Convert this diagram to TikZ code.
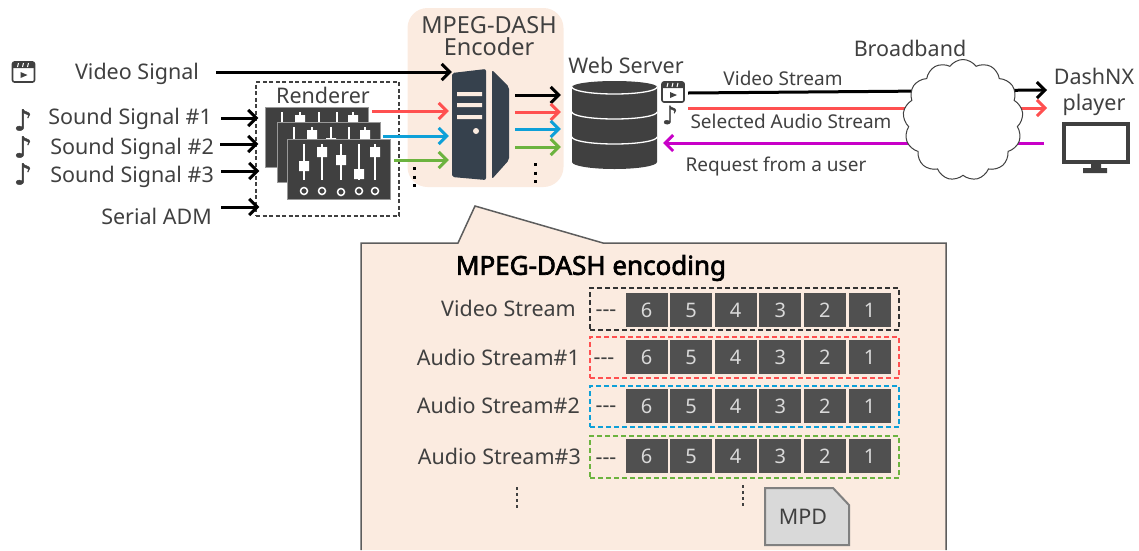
\documentclass[tikz,border=0pt]{standalone}
\usepackage{fontspec}
\setmainfont{Noto Sans}
\newfontfamily\symfont[FakeBold=1.5]{DejaVu Sans}
\newfontfamily\titlefont[FakeBold=2.6]{Noto Sans}
\usetikzlibrary{shapes.geometric, shapes.symbols, arrows.meta, positioning}
\definecolor{peach}{HTML}{FBEBE0}
\definecolor{txtgray}{HTML}{404040}
\definecolor{segfill}{HTML}{505050}
\definecolor{towerblue}{HTML}{36414D}
\definecolor{redline}{HTML}{FF5050}
\definecolor{blueline}{HTML}{0EA0D8}
\definecolor{greenline}{HTML}{6CB33F}
\definecolor{pinkline}{HTML}{C800C8}

\begin{document}
\begin{tikzpicture}[
        x=1pt, y=-1pt,
        label/.style={text=txtgray, font=\fontsize{21.5}{26}\selectfont, inner sep=0pt},
        smalllabel/.style={text=txtgray, font=\fontsize{19}{23}\selectfont, inner sep=0pt},
        notesym/.style={text=txtgray, font=\symfont\fontsize{29}{29}\selectfont, inner sep=0pt},
        arrow/.style={-{Straight Barb[length=8pt, width=16pt, line width=3pt]}, line width=3pt},
        seg/.style={fill=segfill, text=black!15, font=\fontsize{20}{24}\selectfont, minimum width=42pt, minimum height=34pt, inner sep=0pt},
        rowbox/.style={dash pattern=on 5pt off 3pt, line width=1.5pt, minimum width=309pt, inner sep=0pt},
        dots/.style={line width=3pt, dash pattern=on 3pt off 5.5pt},
        node distance=2.2pt,
        clapper/.pic={
            \draw[txtgray, line width=1.6pt, fill=white, rounded corners=2pt] (-11,-10) rectangle (11,10);
            \fill[txtgray, rounded corners=1pt] (-11,-10) rectangle (11,-4);
            \draw[white, line width=1pt] (-6,-5) -- (-5,-9) (-1,-5) -- (0,-9) (4,-5) -- (5,-9);
            \fill[txtgray] (-3,0) -- (4,3) -- (-3,6) -- cycle;
        },
        mixer/.pic={
            \draw[black!40, line width=1pt, fill=txtgray] (0,0) rectangle (103,60);
            \draw[white, line width=1.5pt] (17,5) -- (17,41) (35,5) -- (35,41) (54,5) -- (54,41) (72,5) -- (72,41) (88,5) -- (88,41);
            \fill[white] (12,22) rectangle (22,32) (30,8) rectangle (40,18) (49,16) rectangle (59,26) (67,30) rectangle (77,40) (83,8) rectangle (93,18);
            \draw[white, line width=1.5pt] (17,52) circle (3.5) (35,52) circle (3.5) (54,53) circle (3.5) (72,52) circle (3.5) (88,52) circle (3.5);
        }
    ]
        \useasboundingbox (0,0) rectangle (1139,550);

        % Backgrounds
        \node[fill=peach, rounded corners=20pt, minimum width=156pt, minimum height=179pt, inner sep=0pt] (encbg) at (485.5,97.5) {};
        \fill[peach] (361,550) -- (361,243) -- (458,243) -- (475,206) -- (603,243) -- (946,243) -- (946,550) -- cycle;
        \draw[txtgray!85, line width=1.5pt] (361,550) -- (361,243) -- (458,243) -- (475,206) -- (603,243) -- (946,243) -- (946,550);

        % Inputs
        \pic at (23.5,72) {clapper};
        \node[label] (vsig) at (137,74) {Video Signal};
        \node[notesym] (note1) at (23,120) {♪};
        \node[notesym] (note2) at (23,147) {♪};
        \node[notesym] (note3) at (23,174) {♪};
        \node[label, anchor=east] (snd1) at (212,119) {Sound Signal \#1};
        \node[label, anchor=east] (snd2) at (214,149) {Sound Signal \#2};
        \node[label, anchor=east] (snd3) at (214,177) {Sound Signal \#3};
        \node[label, anchor=east] (adm) at (212,216) {Serial ADM};

        % Renderer
        \node[draw=txtgray, dash pattern=on 4pt off 2.5pt, line width=1.3pt, minimum width=143pt, minimum height=134pt, inner sep=0pt] (render) at (327.5,149) {};
        \node[label] (rendtxt) at (323,95) {Renderer};
        \pic at (265,107) {mixer};
        \pic at (277,122) {mixer};
        \pic at (287,139) {mixer};

        % Encoder
        \node[label, align=center, font=\fontsize{23.5}{22}\selectfont] (enctxt) at (489,36) {MPEG-DASH\\Encoder};
        \node[minimum width=57pt, minimum height=111pt, inner sep=0pt] (tower) at (480.5,124.5) {};
        \fill[towerblue, rounded corners=2pt] (452,73) -- (486,69) -- (486,180) -- (452,177) -- cycle;
        \fill[towerblue, rounded corners=2pt] (492,70) -- (509,87) -- (509,160) -- (492,179) -- cycle;
        \fill[peach] (457,92) rectangle (482,96) (457,103) rectangle (482,107) (457,115) rectangle (482,119);
        \fill[peach] (476,131) circle (3);

        % Web server
        \node[label] (webtxt) at (626,65) {Web Server};
        \node[minimum width=85pt, minimum height=88pt, inner sep=0pt] (server) at (614.5,125) {};
        \fill[txtgray] (572,87) arc[start angle=180, end angle=360, x radius=42.5, y radius=6] -- (657,162) arc[start angle=0, end angle=180, x radius=42.5, y radius=7] -- cycle;
        \draw[white, line width=1.3pt] (572,87) arc[start angle=180, end angle=0, x radius=42.5, y radius=7];
        \draw[white, line width=1.3pt] (572,112) arc[start angle=180, end angle=0, x radius=42.5, y radius=7];
        \draw[white, line width=1.3pt] (572,137) arc[start angle=180, end angle=0, x radius=42.5, y radius=7];
        \pic at (673,92) {clapper};
        \node[notesym, font=\symfont\fontsize{25}{25}\selectfont] (note4) at (670,115) {♪};

        % Player
        \node[label, align=center] (playtxt) at (1094,92) {DashNX\\player};
        \node[draw=txtgray, line width=4pt, minimum width=64pt, minimum height=38pt, inner sep=0pt] (player) at (1096,143) {};
        \fill[txtgray] (1091,164) rectangle (1101,168) (1083,168) rectangle (1107,173);

        % Free ends
        \coordinate (redout) at (372,111);
        \coordinate (blueout) at (383,136);
        \coordinate (greenout) at (394,160);
        \coordinate (vidout) at (515,95);
        \coordinate (redenc) at (515,112);
        \coordinate (blueenc) at (515,129);
        \coordinate (greenenc) at (515,147);
        \coordinate (vidsrv) at (688,93);
        \coordinate (redsrv) at (688,108);
        \coordinate (reqsrv) at (663,143);
        \coordinate (vidplay) at (1047,90);
        \coordinate (redplay) at (1047,108);
        \coordinate (reqplay) at (1044,143);

        % Arrows
        \draw[arrow] ([xshift=17pt,yshift=2pt]vsig.east) -- (tower.west |- 0,72);
        \draw[arrow] ([xshift=9pt,yshift=1pt]snd1.east) -- ([xshift=3pt]render.west |- 0,118);
        \draw[arrow] ([xshift=6pt,yshift=5pt]snd2.east) -- ([xshift=3pt]render.west |- 0,144);
        \draw[arrow] ([xshift=7pt,yshift=6pt]snd3.east) -- ([xshift=4pt]render.west |- 0,171);
        \draw[arrow] ([xshift=9pt,yshift=9pt]adm.east) -- ([xshift=4pt]render.west |- 0,207);
        \draw[arrow, redline] (redout) -- ([xshift=-3pt]tower.west |- redout);
        \draw[arrow, blueline] (blueout) -- ([xshift=-3pt]tower.west |- blueout);
        \draw[arrow, greenline] (greenout) -- ([xshift=-3pt]tower.west |- greenout);
        \draw[arrow] (vidout) -- ([xshift=-11pt]server.west |- vidout);
        \draw[arrow, redline] (redenc) -- ([xshift=-11pt]server.west |- redenc);
        \draw[arrow, blueline] (blueenc) -- ([xshift=-11pt]server.west |- blueenc);
        \draw[arrow, greenline] (greenenc) -- ([xshift=-11pt]server.west |- greenenc);
        \draw[arrow] (vidsrv) -- (vidplay);
        \draw[arrow, redline] (redsrv) -- (redplay);
        \draw[arrow, pinkline] (reqplay) -- (reqsrv);
        \draw[dots] (414,167) -- (414,187);
        \draw[dots] (535,163) -- (535,183);

        % Broadband
        \node[cloud, cloud puffs=13, cloud puff arc=110, aspect=1, draw=txtgray, line width=1pt, fill=white, minimum width=120pt, minimum height=121pt, inner sep=0pt] (cloud) at (963,120) {};
        \node[label] (bandtxt) at (910,48) {Broadband};
        \node[smalllabel] (vidtxt) at (783,78) {Video Stream};
        \node[smalllabel] (seltxt) at (791,121) {Selected Audio Stream};
        \node[smalllabel] (reqtxt) at (776,167) {Request from a user};

        % Encoding panel
        \node[text=black, font=\titlefont\fontsize{26}{30}\selectfont, inner sep=0pt] (enctitle) at (591,268) {MPEG-DASH encoding};

        \node[label, anchor=east] (vidlbl) at (576,308) {Video Stream};
        \node[label, anchor=east] (a1lbl) at (580,357) {Audio Stream\#1};
        \node[label, anchor=east] (a2lbl) at (580,405) {Audio Stream\#2};
        \node[label, anchor=east] (a3lbl) at (581,456) {Audio Stream\#3};

        \node[rowbox, draw=black!80, minimum height=42pt] (vidbox) at (744.5,309) {};
        \node[rowbox, draw=redline, minimum height=41pt] (a1box) at (744.5,357.5) {};
        \node[rowbox, draw=blueline, minimum height=41pt] (a2box) at (744.5,406.5) {};
        \node[rowbox, draw=greenline, minimum height=42pt] (a3box) at (744.5,457) {};

        \node[label] (viddash) at (606,313) {-{}-{}-};
        \node[label] (a1dash) at (604,361) {-{}-{}-};
        \node[label] (a2dash) at (606,409) {-{}-{}-};
        \node[label] (a3dash) at (606,461) {-{}-{}-};

        \node[seg] (v6) at (646.5,310) {6};
        \node[seg, right=of v6] (v5) {5};
        \node[seg, right=of v5] (v4) {4};
        \node[seg, right=of v4] (v3) {3};
        \node[seg, right=of v3] (v2) {2};
        \node[seg, right=of v2] (v1) {1};

        \node[seg] (p6) at (646.5,357) {6};
        \node[seg, right=of p6] (p5) {5};
        \node[seg, right=of p5] (p4) {4};
        \node[seg, right=of p4] (p3) {3};
        \node[seg, right=of p3] (p2) {2};
        \node[seg, right=of p2] (p1) {1};

        \node[seg] (q6) at (646.5,406) {6};
        \node[seg, right=of q6] (q5) {5};
        \node[seg, right=of q5] (q4) {4};
        \node[seg, right=of q4] (q3) {3};
        \node[seg, right=of q3] (q2) {2};
        \node[seg, right=of q2] (q1) {1};

        \node[seg] (r6) at (646.5,456) {6};
        \node[seg, right=of r6] (r5) {5};
        \node[seg, right=of r5] (r4) {4};
        \node[seg, right=of r4] (r3) {3};
        \node[seg, right=of r3] (r2) {2};
        \node[seg, right=of r2] (r1) {1};

        \draw[line width=1.5pt, dashed, txtgray] (517,487) -- (517,509);
        \draw[line width=1.5pt, dashed, txtgray] (743,485) -- (743,506);

        % MPD
        \draw[black!50, line width=2pt, fill=black!15] (765,488) -- (833,488) -- (849,505) -- (849,545) -- (765,545) -- cycle;
        \node[label] (mpd) at (803,517) {MPD};
    \end{tikzpicture}
\end{document}
